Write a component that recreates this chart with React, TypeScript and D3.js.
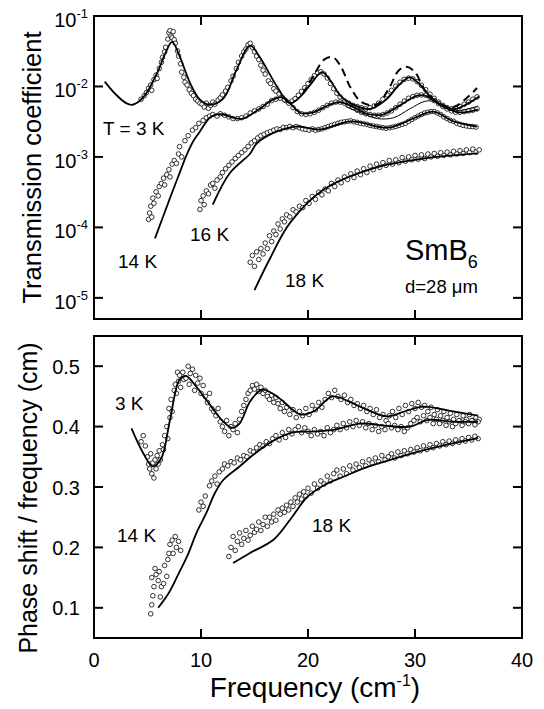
import React from 'react';
import * as d3 from 'd3';

type P = [number, number];

// ---------- axis ticks ----------
const freqTicks = [0, 10, 20, 30, 40];
const transTicks = [1e-1, 1e-2, 1e-3, 1e-4, 1e-5];
const transTickExp = ['-1', '-2', '-3', '-4', '-5'];
const phaseTicks = [0.1, 0.2, 0.3, 0.4, 0.5];

// ---------- top panel: transmission coefficient ----------
const fit3K: P[] = [[1.0,0.0117],[2.0,0.0078],[3.0,0.0058],[3.6,0.0055],[4.6,0.0070],[5.9,0.0155],[6.6,0.028],[7.3,0.043],[8.0,0.027],[9.0,0.011],[9.9,0.0065],[10.8,0.0055],[12.1,0.0068],[13.3,0.017],[14.6,0.038],[15.5,0.026],[17.1,0.010],[18.3,0.0058],[19.3,0.0072],[20.3,0.011],[21.3,0.016],[22.2,0.0115],[23.0,0.0075],[24.5,0.0053],[25.8,0.0048],[27.3,0.0065],[28.5,0.0105],[29.5,0.0135],[30.5,0.0105],[31.5,0.0070],[33.0,0.0050],[33.8,0.0048],[35.0,0.0058],[36.0,0.0072]];
const dashed3K: P[] = [[19.5,0.0078],[20.5,0.014],[21.5,0.024],[22.3,0.026],[23.0,0.020],[24.0,0.0095],[25.0,0.0060],[26.4,0.0055],[27.5,0.0090],[28.5,0.017],[29.2,0.019],[30.0,0.016],[31.0,0.0085],[32.5,0.0055],[33.6,0.0051],[34.8,0.0068],[35.8,0.0095]];
const fit14K: P[] = [[5.7,7e-5],[6.4,1.35e-4],[7.1,2.6e-4],[7.9,5.4e-4],[8.66,1.07e-3],[9.3,1.7e-3],[9.9,2.3e-3],[10.4,3.0e-3],[10.8,3.6e-3],[11.4,4.0e-3],[12.1,4.0e-3],[13.0,3.6e-3],[13.9,3.5e-3],[14.9,4.2e-3],[15.8,5.2e-3],[16.7,6.5e-3],[17.5,7.0e-3],[18.3,5.8e-3],[19.3,4.2e-3],[20.5,4.3e-3],[22.0,5.5e-3],[23.0,6.0e-3],[24.0,5.3e-3],[25.5,4.1e-3],[27.0,4.0e-3],[28.5,5.3e-3],[30.2,7.4e-3],[31.1,7.3e-3],[32.5,5.3e-3],[34.0,4.3e-3],[35.9,4.7e-3]];
const thinFit: P[] = [[23.5,5.2e-3],[25,4.2e-3],[26.5,3.5e-3],[28,3.6e-3],[29.5,4.8e-3],[31,6.2e-3],[32,6.0e-3],[33.6,4.5e-3],[35.9,5.3e-3]];
const fit16K: P[] = [[11.1,2.1e-4],[12.7,5.9e-4],[14.6,1.12e-3],[15.2,1.55e-3],[17.1,2.3e-3],[18.9,2.7e-3],[21.1,2.45e-3],[24.0,3.2e-3],[27.5,2.6e-3],[30.0,3.6e-3],[31.7,4.4e-3],[33.6,3.2e-3],[35.8,2.7e-3]];
const fit18K: P[] = [[15.0,1.29e-5],[16.4,3.5e-5],[18.3,1.15e-4],[21.4,3.4e-4],[26.1,6.9e-4],[30.8,9.5e-4],[35.9,1.12e-3]];

const data3K: P[] = [[4.4,0.0066],[4.7,0.0074],[4.9,0.0082],[5.1,0.0094],[5.3,0.0105],[5.4,0.0088],[5.6,0.0125],[5.8,0.0145],[5.9,0.013],[6.1,0.018],[6.3,0.022],[6.4,0.026],[6.6,0.031],[6.7,0.036],[6.9,0.047],[7.0,0.058],[7.1,0.062],[7.2,0.052],[7.3,0.049],[7.4,0.060],[7.5,0.046],[7.6,0.041],[7.8,0.032],[7.9,0.027],[8.1,0.021],[8.2,0.016],[8.4,0.0135],[8.5,0.0115],[8.7,0.0105],[8.9,0.0090],[9.1,0.0080],[9.3,0.0074],[9.5,0.0066],[9.7,0.0062],[9.9,0.0058],[10.1,0.0056],[10.3,0.0051],[10.5,0.0058],[10.7,0.0049],[10.9,0.0054],[11.1,0.0060],[11.3,0.0056],[11.6,0.0064],[11.8,0.0069],[12.0,0.0076],[12.3,0.0086],[12.5,0.0097],[12.8,0.012],[13.0,0.014],[13.3,0.018],[13.5,0.022],[13.8,0.027],[14.0,0.031],[14.2,0.034],[14.4,0.039],[14.6,0.041],[14.8,0.036],[15.0,0.031],[15.2,0.027],[15.4,0.024],[15.6,0.020],[15.8,0.017],[16.0,0.015],[16.3,0.012],[16.5,0.011],[16.8,0.0093],[17.0,0.0086],[17.3,0.0078],[17.6,0.0070],[17.9,0.0063],[18.2,0.0059],[18.5,0.0062],[18.8,0.0067],[19.1,0.0075],[19.4,0.0085],[19.7,0.0096],[20.0,0.011],[20.3,0.0126],[20.6,0.0142],[20.9,0.0156],[21.2,0.0162],[21.5,0.0150],[21.8,0.0132],[22.1,0.011],[22.4,0.0093],[22.7,0.0080],[23.0,0.0071],[23.4,0.0062],[23.8,0.0058],[24.2,0.0054],[24.6,0.0052],[25.0,0.0050],[25.4,0.0048],[25.8,0.0050],[26.2,0.0053],[26.6,0.0058],[27.0,0.0066],[27.4,0.0076],[27.8,0.0088],[28.2,0.0101],[28.6,0.0115],[29.0,0.0126],[29.4,0.0131],[29.8,0.0128],[30.2,0.0117],[30.6,0.0104],[31.0,0.0090],[31.4,0.0078],[31.8,0.0068],[32.2,0.0060],[32.6,0.0054],[33.0,0.0050],[33.4,0.0048],[33.8,0.0049],[34.2,0.0052],[34.6,0.0056],[35.0,0.0060],[35.4,0.0066],[35.8,0.0071]];
const data14K: P[] = [[5.1,1.3e-4],[5.2,1.6e-4],[5.3,2.0e-4],[5.4,1.4e-4],[5.5,2.6e-4],[5.6,2.2e-4],[5.8,3.2e-4],[6.0,2.8e-4],[6.1,3.8e-4],[6.3,4.2e-4],[6.5,5.0e-4],[6.6,4.0e-4],[6.8,5.6e-4],[7.0,6.6e-4],[7.1,5.2e-4],[7.3,7.9e-4],[7.5,8.9e-4],[7.7,8.1e-4],[7.9,1.1e-3],[8.0,1.4e-3],[8.2,1.0e-3],[8.5,1.7e-3],[8.8,2.0e-3],[9.2,2.4e-3],[9.5,2.6e-3],[9.8,3.0e-3],[10.2,3.3e-3],[10.5,3.6e-3],[10.8,3.8e-3],[11.1,4.0e-3],[11.5,3.8e-3],[11.8,4.1e-3],[12.2,3.9e-3],[12.6,3.7e-3],[13.0,3.5e-3],[13.4,3.5e-3],[13.8,3.6e-3],[14.2,3.8e-3],[14.6,4.2e-3],[15.0,4.5e-3],[15.4,4.8e-3],[15.8,5.2e-3],[16.2,5.6e-3],[16.6,6.3e-3],[17.0,6.6e-3],[17.4,6.8e-3],[17.8,6.5e-3],[18.2,5.8e-3],[18.6,5.0e-3],[19.0,4.4e-3],[19.4,4.1e-3],[19.8,4.0e-3],[20.2,4.1e-3],[20.6,4.3e-3],[21.0,4.6e-3],[21.4,5.0e-3],[21.8,5.4e-3],[22.2,5.8e-3],[22.6,6.0e-3],[23.0,6.0e-3],[23.4,5.8e-3],[23.8,5.4e-3],[24.2,5.0e-3],[24.6,4.6e-3],[25.0,4.3e-3],[25.4,4.1e-3],[25.8,4.0e-3],[26.2,3.9e-3],[26.6,3.9e-3],[27.0,4.0e-3],[27.4,4.2e-3],[27.8,4.5e-3],[28.2,5.0e-3],[28.6,5.6e-3],[29.0,6.2e-3],[29.4,6.8e-3],[29.8,7.2e-3],[30.2,7.5e-3],[30.6,7.6e-3],[31.0,7.5e-3],[31.4,7.0e-3],[31.8,6.3e-3],[32.2,5.7e-3],[32.6,5.2e-3],[33.0,4.8e-3],[33.4,4.5e-3],[33.8,4.3e-3],[34.2,4.3e-3],[34.6,4.4e-3],[35.0,4.5e-3],[35.4,4.6e-3],[35.8,4.8e-3]];
const data16K: P[] = [[9.9,1.8e-4],[10.0,2.4e-4],[10.2,2.8e-4],[10.3,2.1e-4],[10.5,3.3e-4],[10.7,3.0e-4],[10.9,4.0e-4],[11.1,4.2e-4],[11.3,3.6e-4],[11.5,4.7e-4],[11.8,5.2e-4],[12.0,6.0e-4],[12.3,6.8e-4],[12.6,7.6e-4],[12.9,8.5e-4],[13.2,9.5e-4],[13.5,1.05e-3],[13.8,1.15e-3],[14.1,1.26e-3],[14.4,1.41e-3],[14.7,1.58e-3],[15.0,1.7e-3],[15.3,1.86e-3],[15.6,2.0e-3],[15.9,2.1e-3],[16.2,2.2e-3],[16.5,2.3e-3],[16.8,2.4e-3],[17.1,2.5e-3],[17.4,2.45e-3],[17.7,2.63e-3],[18.0,2.6e-3],[18.3,2.7e-3],[18.6,2.6e-3],[18.9,2.7e-3],[19.2,2.6e-3],[19.5,2.5e-3],[19.8,2.45e-3],[20.1,2.4e-3],[20.4,2.5e-3],[20.7,2.4e-3],[21.0,2.45e-3],[21.3,2.5e-3],[21.6,2.6e-3],[21.9,2.7e-3],[22.2,2.8e-3],[22.5,2.9e-3],[22.8,3.0e-3],[23.1,3.1e-3],[23.4,3.15e-3],[23.7,3.2e-3],[24.0,3.25e-3],[24.3,3.15e-3],[24.6,3.1e-3],[24.9,3.0e-3],[25.2,2.95e-3],[25.5,2.9e-3],[25.8,2.8e-3],[26.1,2.75e-3],[26.4,2.7e-3],[26.7,2.65e-3],[27.0,2.6e-3],[27.3,2.55e-3],[27.6,2.6e-3],[27.9,2.65e-3],[28.2,2.7e-3],[28.5,2.8e-3],[28.8,2.9e-3],[29.1,3.0e-3],[29.4,3.2e-3],[29.7,3.4e-3],[30.0,3.6e-3],[30.3,3.8e-3],[30.6,4.0e-3],[30.9,4.2e-3],[31.2,4.3e-3],[31.5,4.4e-3],[31.8,4.4e-3],[32.1,4.2e-3],[32.4,4.0e-3],[32.7,3.7e-3],[33.0,3.5e-3],[33.3,3.3e-3],[33.6,3.2e-3],[33.9,3.0e-3],[34.2,2.9e-3],[34.5,2.8e-3],[34.8,2.75e-3],[35.1,2.7e-3],[35.4,2.7e-3],[35.7,2.65e-3]];
const data18K: P[] = [[14.6,3.2e-5],[14.8,4.0e-5],[15.0,2.8e-5],[15.2,4.5e-5],[15.4,3.5e-5],[15.6,5.0e-5],[15.8,4.2e-5],[16.0,6.0e-5],[16.2,5.0e-5],[16.4,7.6e-5],[16.6,6.3e-5],[16.8,8.9e-5],[17.0,7.9e-5],[17.2,1.12e-4],[17.4,9.5e-5],[17.6,1.32e-4],[17.8,1.2e-4],[18.0,1.51e-4],[18.3,1.41e-4],[18.6,1.78e-4],[18.9,1.66e-4],[19.2,2.0e-4],[19.5,1.91e-4],[19.8,2.4e-4],[20.1,2.2e-4],[20.4,2.75e-4],[20.7,2.5e-4],[21.0,3.16e-4],[21.3,2.9e-4],[21.6,3.5e-4],[21.9,3.3e-4],[22.2,4.2e-4],[22.5,3.8e-4],[22.8,4.7e-4],[23.1,4.3e-4],[23.4,5.2e-4],[23.7,4.8e-4],[24.0,5.75e-4],[24.3,5.1e-4],[24.6,6.3e-4],[24.9,5.6e-4],[25.2,6.8e-4],[25.5,6.0e-4],[25.8,7.4e-4],[26.1,6.6e-4],[26.4,7.9e-4],[26.7,7.1e-4],[27.0,8.3e-4],[27.3,7.6e-4],[27.6,8.9e-4],[27.9,7.9e-4],[28.2,9.1e-4],[28.5,8.3e-4],[28.8,9.8e-4],[29.1,8.7e-4],[29.4,1.0e-3],[29.7,9.1e-4],[30.0,1.05e-3],[30.3,9.3e-4],[30.6,1.07e-3],[30.9,9.5e-4],[31.2,1.1e-3],[31.5,1.0e-3],[31.8,1.12e-3],[32.1,1.02e-3],[32.4,1.15e-3],[32.7,1.05e-3],[33.0,1.17e-3],[33.3,1.07e-3],[33.6,1.2e-3],[33.9,1.1e-3],[34.2,1.23e-3],[34.5,1.12e-3],[34.8,1.26e-3],[35.1,1.15e-3],[35.4,1.29e-3],[35.7,1.17e-3],[36.0,1.26e-3]];

// ---------- bottom panel: phase shift / frequency ----------
const phFit3K: P[] = [[3.5,0.397],[4.6,0.356],[5.5,0.334],[6.3,0.348],[7.1,0.411],[8.0,0.478],[8.6,0.484],[9.3,0.472],[10.5,0.444],[12.0,0.41],[12.9,0.398],[13.6,0.405],[14.6,0.442],[15.7,0.461],[17.1,0.45],[19.3,0.42],[20.5,0.425],[22.3,0.45],[23.9,0.441],[25.5,0.428],[27.4,0.417],[29.0,0.425],[30.8,0.433],[33.3,0.426],[35.9,0.418]];
const phFit14K: P[] = [[6.0,0.10],[7.0,0.125],[8.0,0.16],[8.7,0.185],[9.6,0.225],[10.5,0.257],[11.3,0.29],[12.1,0.312],[13.6,0.334],[15.0,0.355],[16.7,0.376],[18.5,0.39],[20.6,0.392],[22.5,0.395],[24.9,0.405],[27.5,0.401],[29.6,0.40],[31.2,0.411],[33.5,0.408],[35.9,0.408]];
const phFit18K: P[] = [[13.0,0.174],[14.5,0.19],[16.8,0.213],[18.5,0.25],[19.9,0.283],[21.5,0.303],[23.3,0.317],[25.5,0.333],[27.7,0.345],[30,0.357],[33,0.37],[35.9,0.381]];

const phData3K: P[] = [[4.4,0.375],[4.6,0.385],[4.8,0.368],[5.0,0.350],[5.1,0.338],[5.2,0.330],[5.3,0.355],[5.4,0.322],[5.5,0.340],[5.6,0.315],[5.7,0.345],[5.8,0.330],[5.9,0.352],[6.0,0.338],[6.1,0.36],[6.2,0.345],[6.4,0.37],[6.5,0.362],[6.6,0.385],[6.8,0.40],[6.9,0.38],[7.0,0.43],[7.1,0.415],[7.2,0.445],[7.3,0.425],[7.5,0.46],[7.6,0.47],[7.7,0.455],[7.8,0.49],[7.9,0.475],[8.0,0.485],[8.1,0.465],[8.3,0.49],[8.4,0.478],[8.6,0.48],[8.8,0.50],[8.9,0.47],[9.0,0.488],[9.2,0.495],[9.4,0.46],[9.5,0.485],[9.7,0.472],[9.9,0.48],[10.0,0.455],[10.2,0.468],[10.4,0.45],[10.6,0.44],[10.8,0.455],[11.0,0.43],[11.2,0.425],[11.4,0.418],[11.6,0.43],[11.8,0.408],[12.0,0.40],[12.2,0.392],[12.4,0.41],[12.6,0.385],[12.8,0.40],[13.0,0.395],[13.2,0.405],[13.4,0.39],[13.6,0.412],[13.8,0.425],[14.0,0.435],[14.2,0.445],[14.4,0.455],[14.6,0.46],[14.8,0.468],[15.0,0.462],[15.2,0.47],[15.4,0.458],[15.6,0.465],[15.8,0.455],[16.0,0.46],[16.2,0.45],[16.4,0.445],[16.6,0.452],[16.8,0.44],[17.0,0.448],[17.2,0.438],[17.4,0.43],[17.6,0.44],[17.8,0.425],[18.0,0.432],[18.3,0.42],[18.6,0.428],[18.9,0.415],[19.2,0.425],[19.5,0.418],[19.8,0.43],[20.1,0.42],[20.4,0.435],[20.7,0.428],[21.0,0.44],[21.3,0.432],[21.6,0.445],[21.9,0.455],[22.2,0.448],[22.5,0.46],[22.8,0.45],[23.1,0.445],[23.4,0.452],[23.7,0.44],[24.0,0.445],[24.3,0.435],[24.6,0.438],[24.9,0.43],[25.2,0.435],[25.5,0.425],[25.8,0.43],[26.1,0.42],[26.4,0.428],[26.7,0.415],[27.0,0.42],[27.3,0.41],[27.6,0.418],[27.9,0.425],[28.2,0.415],[28.5,0.43],[28.8,0.42],[29.1,0.435],[29.4,0.425],[29.7,0.438],[30.0,0.43],[30.3,0.44],[30.6,0.432],[30.9,0.435],[31.2,0.425],[31.5,0.432],[31.8,0.42],[32.1,0.428],[32.4,0.418],[32.7,0.425],[33.0,0.415],[33.3,0.422],[33.6,0.412],[33.9,0.42],[34.2,0.41],[34.5,0.418],[34.8,0.412],[35.1,0.42],[35.4,0.41],[35.7,0.415],[36.0,0.412]];
const phData14K: P[] = [[5.3,0.09],[5.4,0.105],[5.5,0.12],[5.4,0.15],[5.6,0.135],[5.7,0.165],[5.8,0.155],[6.0,0.145],[6.1,0.16],[6.2,0.118],[6.3,0.135],[6.5,0.14],[6.6,0.17],[6.8,0.152],[6.9,0.18],[7.0,0.19],[7.1,0.205],[7.3,0.212],[7.4,0.19],[7.6,0.218],[7.7,0.2],[7.9,0.21],[8.1,0.195],[9.8,0.262],[10.0,0.275],[10.2,0.268],[10.4,0.285],[10.8,0.302],[11.0,0.31],[11.3,0.318],[11.5,0.305],[11.7,0.325],[12.0,0.33],[12.2,0.338],[12.5,0.335],[12.8,0.342],[13.1,0.34],[13.4,0.348],[13.7,0.345],[14.0,0.352],[14.3,0.35],[14.6,0.36],[14.9,0.358],[15.2,0.365],[15.5,0.37],[15.8,0.368],[16.1,0.375],[16.4,0.372],[16.7,0.38],[17.0,0.385],[17.3,0.378],[17.6,0.39],[17.9,0.382],[18.2,0.395],[18.5,0.388],[18.8,0.395],[19.1,0.40],[19.4,0.39],[19.7,0.398],[20.0,0.392],[20.3,0.385],[20.6,0.395],[20.9,0.388],[21.2,0.392],[21.5,0.385],[21.8,0.398],[22.1,0.39],[22.4,0.395],[22.7,0.402],[23.0,0.395],[23.3,0.405],[23.6,0.398],[23.9,0.408],[24.2,0.40],[24.5,0.41],[24.8,0.402],[25.1,0.408],[25.4,0.398],[25.7,0.405],[26.0,0.395],[26.3,0.402],[26.6,0.392],[26.9,0.40],[27.2,0.395],[27.5,0.405],[27.8,0.398],[28.1,0.402],[28.4,0.395],[28.7,0.40],[29.0,0.392],[29.3,0.398],[29.6,0.405],[29.9,0.41],[30.2,0.415],[30.5,0.408],[30.8,0.418],[31.1,0.41],[31.4,0.415],[31.7,0.405],[32.0,0.412],[32.3,0.405],[32.6,0.41],[32.9,0.402],[33.2,0.408],[33.5,0.40],[33.8,0.405],[34.1,0.41],[34.4,0.402],[34.7,0.408],[35.0,0.405],[35.3,0.41],[35.6,0.403],[35.9,0.408]];
const phData18K: P[] = [[12.6,0.185],[12.8,0.20],[13.0,0.218],[13.2,0.195],[13.4,0.21],[13.6,0.224],[13.8,0.205],[14.0,0.215],[14.2,0.228],[14.4,0.212],[14.6,0.22],[14.8,0.235],[15.0,0.225],[15.2,0.23],[15.4,0.242],[15.6,0.228],[15.8,0.238],[16.0,0.25],[16.2,0.235],[16.4,0.25],[16.6,0.242],[16.8,0.255],[17.0,0.245],[17.2,0.262],[17.4,0.255],[17.6,0.265],[17.8,0.258],[18.0,0.27],[18.2,0.262],[18.4,0.275],[18.6,0.268],[18.8,0.282],[19.0,0.275],[19.2,0.288],[19.4,0.28],[19.6,0.292],[19.8,0.285],[20.0,0.298],[20.3,0.29],[20.6,0.305],[20.9,0.298],[21.2,0.31],[21.5,0.305],[21.8,0.318],[22.1,0.31],[22.4,0.322],[22.7,0.328],[23.0,0.318],[23.3,0.33],[23.6,0.322],[23.9,0.335],[24.2,0.328],[24.5,0.338],[24.8,0.332],[25.1,0.342],[25.4,0.335],[25.7,0.345],[26.0,0.34],[26.3,0.348],[26.6,0.342],[26.9,0.352],[27.2,0.345],[27.5,0.35],[27.8,0.355],[28.1,0.348],[28.4,0.358],[28.7,0.352],[29.0,0.36],[29.3,0.355],[29.6,0.362],[29.9,0.358],[30.2,0.365],[30.5,0.36],[30.8,0.368],[31.1,0.362],[31.4,0.37],[31.7,0.365],[32.0,0.372],[32.3,0.368],[32.6,0.375],[32.9,0.37],[33.2,0.376],[33.5,0.372],[33.8,0.378],[34.1,0.374],[34.4,0.38],[34.7,0.376],[35.0,0.382],[35.3,0.378],[35.6,0.384],[35.9,0.38]];

// ---------- layout ----------
const W = 544, H = 709;
const X0 = 94, X1 = 522;
const T_TOP = 16, T_BOT = 319;
const B_TOP = 336, B_BOT = 638;
const FONT = "'Liberation Sans', Arial, Helvetica, sans-serif";
const TICK = 9;

const x = d3.scaleLinear().domain([0, 40]).range([X0, X1]);
const yT = d3.scaleLog().domain([Math.pow(10, -5.3), 0.1]).range([T_BOT, T_TOP]);
const yB = d3.scaleLinear().domain([0.05, 0.55]).range([B_BOT, B_TOP]);

const lineT = d3.line<P>().x(d => x(d[0])).y(d => yT(d[1])).curve(d3.curveCatmullRom.alpha(0.5));
const lineB = d3.line<P>().x(d => x(d[0])).y(d => yB(d[1])).curve(d3.curveCatmullRom.alpha(0.5));

const Dots = ({ data, y }: { data: P[]; y: (v: number) => number }) => (
  <g>
    {data.map((d, i) => (
      <circle key={i} cx={x(d[0])} cy={y(d[1])} r={2.3} fill="#fff" stroke="#000" strokeWidth={0.8} />
    ))}
  </g>
);

const Frame = ({ top, bottom, yTicks }: { top: number; bottom: number; yTicks: number[] }) => (
  <g stroke="#000" strokeWidth={2} fill="none">
    <rect x={X0} y={top} width={X1 - X0} height={bottom - top} />
    {yTicks.map((py, i) => (
      <g key={i}>
        <line x1={X0} x2={X0 + TICK} y1={py} y2={py} />
        <line x1={X1 - TICK} x2={X1} y1={py} y2={py} />
      </g>
    ))}
    {freqTicks.slice(1, -1).map((f, i) => (
      <g key={'x' + i}>
        <line x1={x(f)} x2={x(f)} y1={top} y2={top + TICK} />
        <line x1={x(f)} x2={x(f)} y1={bottom - TICK} y2={bottom} />
      </g>
    ))}
  </g>
);

export default function App() {
  return (
    <svg width={W} height={H} style={{ position: 'absolute', left: 0, top: 0, background: '#fff' }} fontFamily={FONT}>
      <rect width={W} height={H} fill="#fff" />

      {/* ===== top panel ===== */}
      <Dots data={data3K} y={yT} />
      <Dots data={data14K} y={yT} />
      <Dots data={data16K} y={yT} />
      <Dots data={data18K} y={yT} />
      <g fill="none" stroke="#000">
        <path d={lineT(fit3K) || ''} strokeWidth={1.8} />
        <path d={lineT(fit14K) || ''} strokeWidth={1.8} />
        <path d={lineT(fit16K) || ''} strokeWidth={1.8} />
        <path d={lineT(fit18K) || ''} strokeWidth={1.8} />
        <path d={lineT(thinFit) || ''} strokeWidth={1} />
        <path d={lineT(dashed3K) || ''} strokeWidth={2} strokeDasharray="8,5" />
      </g>
      <Frame top={T_TOP} bottom={T_BOT} yTicks={transTicks.map(t => yT(t))} />
      {transTicks.map((t, i) => (
        <text key={i} x={88} y={yT(t) + 11} textAnchor="end" fontSize={20}>
          10<tspan dy={-9} fontSize={13}>{transTickExp[i]}</tspan>
        </text>
      ))}
      <text transform={`translate(41,${(T_TOP + T_BOT) / 2}) rotate(-90)`} textAnchor="middle" fontSize={25.5}>Transmission coefficient</text>
      <text x={103} y={135} fontSize={19}>T = 3 K</text>
      <text x={118} y={268} fontSize={19}>14 K</text>
      <text x={190} y={241} fontSize={19}>16 K</text>
      <text x={285} y={287} fontSize={19}>18 K</text>
      <text x={405} y={260} fontSize={29}>SmB<tspan dy={8} fontSize={18}>6</tspan></text>
      <text x={405} y={293} fontSize={18.5}>d=28 μm</text>

      {/* ===== bottom panel ===== */}
      <Dots data={phData3K} y={yB} />
      <Dots data={phData14K} y={yB} />
      <Dots data={phData18K} y={yB} />
      <g fill="none" stroke="#000" strokeWidth={1.8}>
        <path d={lineB(phFit3K) || ''} />
        <path d={lineB(phFit14K) || ''} />
        <path d={lineB(phFit18K) || ''} />
      </g>
      <Frame top={B_TOP} bottom={B_BOT} yTicks={phaseTicks.map(t => yB(t))} />
      {phaseTicks.map((t, i) => (
        <text key={i} x={80} y={yB(t) + 7.5} textAnchor="end" fontSize={20}>{t.toFixed(1)}</text>
      ))}
      <text transform={`translate(37,498) rotate(-90)`} textAnchor="middle" fontSize={25}>Phase shift / frequency (cm)</text>
      <text x={115} y={410} fontSize={19}>3 K</text>
      <text x={117} y={542} fontSize={19}>14 K</text>
      <text x={312} y={532} fontSize={19}>18 K</text>

      {/* ===== x axis ===== */}
      {freqTicks.map((f, i) => (
        <text key={i} x={x(f)} y={667} textAnchor="middle" fontSize={20}>{f}</text>
      ))}
      <text x={315} y={697} textAnchor="middle" fontSize={28}>
        Frequency (cm<tspan dy={-11} fontSize={16}>-1</tspan><tspan dy={11}>)</tspan>
      </text>
    </svg>
  );
}
